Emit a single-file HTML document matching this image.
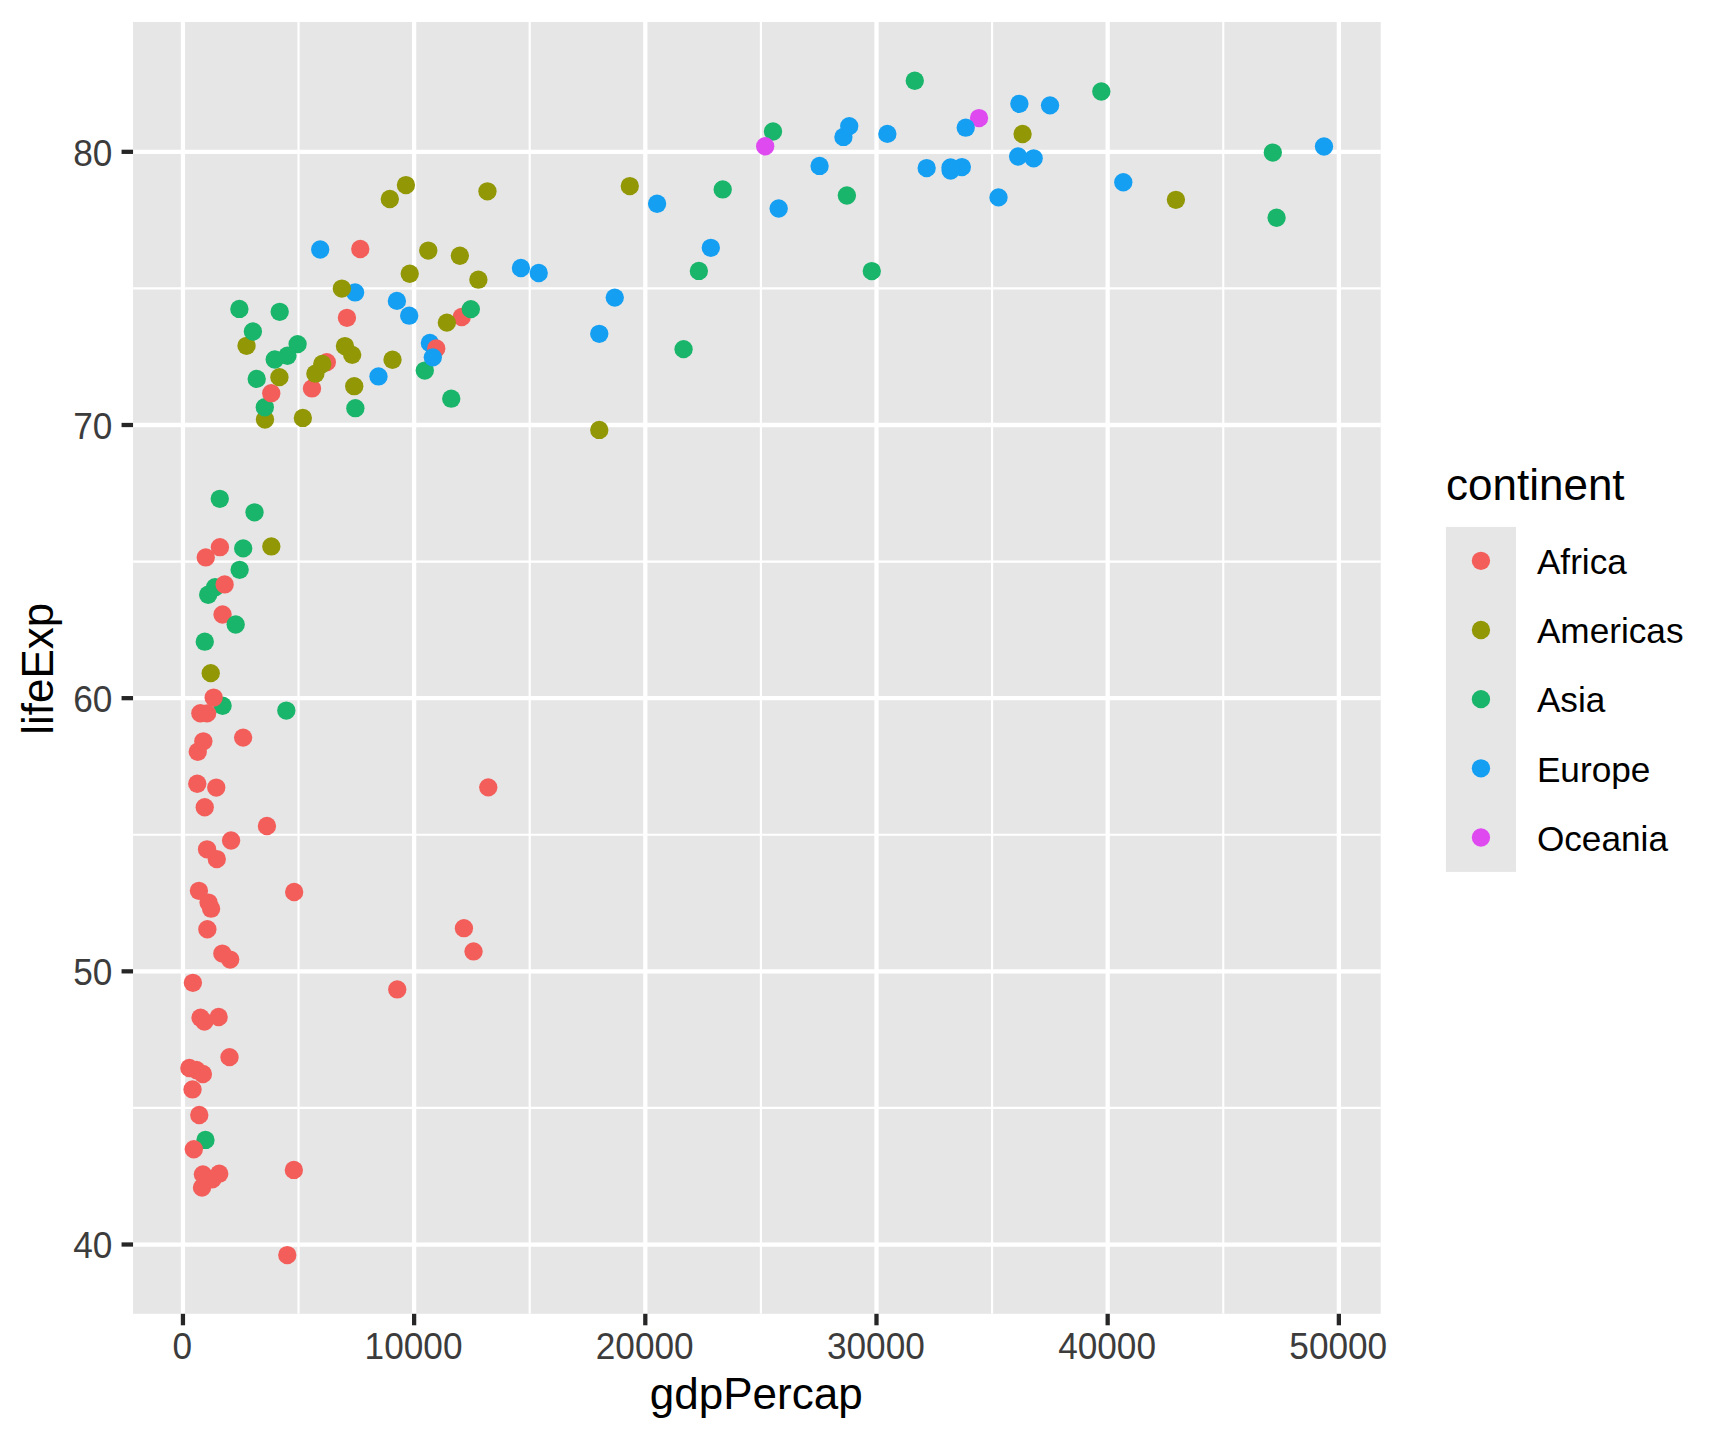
<!DOCTYPE html>
<html lang="en">
<head>
<meta charset="utf-8">
<title>gdpPercap vs lifeExp</title>
<style>
html,body{margin:0;padding:0;background:#fff;}
svg{display:block;}
text{font-family:"Liberation Sans",sans-serif;}
.tl{font-size:35.2px;fill:#3C3C3C;}
.ll{font-size:35.2px;fill:#000;}
.tt{font-size:44px;fill:#000;}
</style>
</head>
<body>
<svg width="1728" height="1440" viewBox="0 0 1728 1440">
<rect x="0" y="0" width="1728" height="1440" fill="#fff"/>
<rect x="133.05" y="22.00" width="1247.65" height="1291.80" fill="#E6E6E6"/>
<g stroke="#fff" stroke-width="2.13" fill="none">
<line x1="133.05" x2="1380.70" y1="1107.92" y2="1107.92"/>
<line x1="133.05" x2="1380.70" y1="834.75" y2="834.75"/>
<line x1="133.05" x2="1380.70" y1="561.58" y2="561.58"/>
<line x1="133.05" x2="1380.70" y1="288.41" y2="288.41"/>
<line x1="298.54" x2="298.54" y1="22.00" y2="1313.80"/>
<line x1="529.72" x2="529.72" y1="22.00" y2="1313.80"/>
<line x1="760.90" x2="760.90" y1="22.00" y2="1313.80"/>
<line x1="992.08" x2="992.08" y1="22.00" y2="1313.80"/>
<line x1="1223.26" x2="1223.26" y1="22.00" y2="1313.80"/>
</g>
<g stroke="#fff" stroke-width="4.27" fill="none">
<line x1="133.05" x2="1380.70" y1="1244.51" y2="1244.51"/>
<line x1="133.05" x2="1380.70" y1="971.34" y2="971.34"/>
<line x1="133.05" x2="1380.70" y1="698.17" y2="698.17"/>
<line x1="133.05" x2="1380.70" y1="425.00" y2="425.00"/>
<line x1="133.05" x2="1380.70" y1="151.82" y2="151.82"/>
<line x1="182.95" x2="182.95" y1="22.00" y2="1313.80"/>
<line x1="414.13" x2="414.13" y1="22.00" y2="1313.80"/>
<line x1="645.31" x2="645.31" y1="22.00" y2="1313.80"/>
<line x1="876.49" x2="876.49" y1="22.00" y2="1313.80"/>
<line x1="1107.67" x2="1107.67" y1="22.00" y2="1313.80"/>
<line x1="1338.85" x2="1338.85" y1="22.00" y2="1313.80"/>
</g>
<g stroke="none">
<circle cx="205.48" cy="1139.94" r="9.17" fill="#18B56A"/>
<circle cx="320.20" cy="249.54" r="9.17" fill="#149FF3"/>
<circle cx="326.82" cy="362.14" r="9.17" fill="#F35E5A"/>
<circle cx="293.85" cy="1169.91" r="9.17" fill="#F35E5A"/>
<circle cx="478.38" cy="279.67" r="9.17" fill="#929706"/>
<circle cx="979.03" cy="118.09" r="9.17" fill="#DE4AF0"/>
<circle cx="1018.12" cy="156.50" r="9.17" fill="#149FF3"/>
<circle cx="871.78" cy="271.06" r="9.17" fill="#18B56A"/>
<circle cx="215.11" cy="587.21" r="9.17" fill="#18B56A"/>
<circle cx="961.86" cy="167.09" r="9.17" fill="#149FF3"/>
<circle cx="216.27" cy="787.55" r="9.17" fill="#F35E5A"/>
<circle cx="271.31" cy="546.45" r="9.17" fill="#929706"/>
<circle cx="355.09" cy="292.45" r="9.17" fill="#149FF3"/>
<circle cx="473.54" cy="951.45" r="9.17" fill="#F35E5A"/>
<circle cx="392.53" cy="359.71" r="9.17" fill="#929706"/>
<circle cx="429.87" cy="342.91" r="9.17" fill="#149FF3"/>
<circle cx="211.09" cy="908.65" r="9.17" fill="#F35E5A"/>
<circle cx="192.89" cy="982.81" r="9.17" fill="#F35E5A"/>
<circle cx="222.57" cy="705.73" r="9.17" fill="#18B56A"/>
<circle cx="230.16" cy="959.59" r="9.17" fill="#F35E5A"/>
<circle cx="1022.58" cy="133.99" r="9.17" fill="#929706"/>
<circle cx="199.27" cy="1115.00" r="9.17" fill="#F35E5A"/>
<circle cx="222.34" cy="953.56" r="9.17" fill="#F35E5A"/>
<circle cx="487.45" cy="191.35" r="9.17" fill="#929706"/>
<circle cx="297.59" cy="344.11" r="9.17" fill="#18B56A"/>
<circle cx="344.93" cy="346.08" r="9.17" fill="#929706"/>
<circle cx="205.75" cy="557.43" r="9.17" fill="#F35E5A"/>
<circle cx="189.37" cy="1067.99" r="9.17" fill="#F35E5A"/>
<circle cx="266.93" cy="825.96" r="9.17" fill="#F35E5A"/>
<circle cx="405.92" cy="185.10" r="9.17" fill="#929706"/>
<circle cx="218.66" cy="1017.01" r="9.17" fill="#F35E5A"/>
<circle cx="520.92" cy="267.98" r="9.17" fill="#149FF3"/>
<circle cx="389.81" cy="199.00" r="9.17" fill="#929706"/>
<circle cx="710.81" cy="247.82" r="9.17" fill="#149FF3"/>
<circle cx="998.52" cy="197.39" r="9.17" fill="#149FF3"/>
<circle cx="231.09" cy="840.46" r="9.17" fill="#F35E5A"/>
<circle cx="322.24" cy="363.94" r="9.17" fill="#929706"/>
<circle cx="341.85" cy="288.57" r="9.17" fill="#929706"/>
<circle cx="311.98" cy="388.45" r="9.17" fill="#F35E5A"/>
<circle cx="315.38" cy="373.69" r="9.17" fill="#929706"/>
<circle cx="463.93" cy="928.20" r="9.17" fill="#F35E5A"/>
<circle cx="197.78" cy="751.71" r="9.17" fill="#F35E5A"/>
<circle cx="198.92" cy="890.84" r="9.17" fill="#F35E5A"/>
<circle cx="950.63" cy="170.59" r="9.17" fill="#149FF3"/>
<circle cx="887.36" cy="133.88" r="9.17" fill="#149FF3"/>
<circle cx="488.26" cy="787.36" r="9.17" fill="#F35E5A"/>
<circle cx="200.35" cy="713.25" r="9.17" fill="#F35E5A"/>
<circle cx="926.66" cy="168.05" r="9.17" fill="#149FF3"/>
<circle cx="213.64" cy="697.57" r="9.17" fill="#F35E5A"/>
<circle cx="819.58" cy="165.95" r="9.17" fill="#149FF3"/>
<circle cx="302.84" cy="417.92" r="9.17" fill="#929706"/>
<circle cx="204.74" cy="807.24" r="9.17" fill="#F35E5A"/>
<circle cx="196.34" cy="1070.01" r="9.17" fill="#F35E5A"/>
<circle cx="210.73" cy="673.14" r="9.17" fill="#929706"/>
<circle cx="264.98" cy="419.59" r="9.17" fill="#929706"/>
<circle cx="1101.31" cy="91.51" r="9.17" fill="#18B56A"/>
<circle cx="599.28" cy="333.81" r="9.17" fill="#149FF3"/>
<circle cx="1019.38" cy="103.83" r="9.17" fill="#149FF3"/>
<circle cx="239.64" cy="569.83" r="9.17" fill="#18B56A"/>
<circle cx="264.80" cy="407.24" r="9.17" fill="#18B56A"/>
<circle cx="451.25" cy="398.66" r="9.17" fill="#18B56A"/>
<circle cx="286.31" cy="710.60" r="9.17" fill="#18B56A"/>
<circle cx="1123.30" cy="182.28" r="9.17" fill="#149FF3"/>
<circle cx="773.00" cy="131.47" r="9.17" fill="#18B56A"/>
<circle cx="843.42" cy="136.91" r="9.17" fill="#149FF3"/>
<circle cx="352.19" cy="354.87" r="9.17" fill="#929706"/>
<circle cx="914.77" cy="80.72" r="9.17" fill="#18B56A"/>
<circle cx="287.43" cy="355.75" r="9.17" fill="#18B56A"/>
<circle cx="216.78" cy="859.07" r="9.17" fill="#F35E5A"/>
<circle cx="219.78" cy="498.83" r="9.17" fill="#18B56A"/>
<circle cx="722.71" cy="189.44" r="9.17" fill="#18B56A"/>
<circle cx="1276.59" cy="217.71" r="9.17" fill="#18B56A"/>
<circle cx="424.79" cy="370.55" r="9.17" fill="#18B56A"/>
<circle cx="219.23" cy="1173.70" r="9.17" fill="#F35E5A"/>
<circle cx="192.53" cy="1089.40" r="9.17" fill="#F35E5A"/>
<circle cx="461.70" cy="317.04" r="9.17" fill="#F35E5A"/>
<circle cx="207.10" cy="713.38" r="9.17" fill="#F35E5A"/>
<circle cx="200.50" cy="1017.70" r="9.17" fill="#F35E5A"/>
<circle cx="470.81" cy="309.14" r="9.17" fill="#18B56A"/>
<circle cx="207.05" cy="849.31" r="9.17" fill="#F35E5A"/>
<circle cx="224.64" cy="584.42" r="9.17" fill="#F35E5A"/>
<circle cx="436.25" cy="348.48" r="9.17" fill="#F35E5A"/>
<circle cx="459.85" cy="255.77" r="9.17" fill="#929706"/>
<circle cx="254.52" cy="512.33" r="9.17" fill="#18B56A"/>
<circle cx="396.88" cy="300.89" r="9.17" fill="#149FF3"/>
<circle cx="271.26" cy="393.20" r="9.17" fill="#F35E5A"/>
<circle cx="201.99" cy="1187.64" r="9.17" fill="#F35E5A"/>
<circle cx="204.77" cy="641.65" r="9.17" fill="#18B56A"/>
<circle cx="294.17" cy="891.96" r="9.17" fill="#F35E5A"/>
<circle cx="208.18" cy="594.77" r="9.17" fill="#18B56A"/>
<circle cx="1033.64" cy="158.33" r="9.17" fill="#149FF3"/>
<circle cx="765.18" cy="146.25" r="9.17" fill="#DE4AF0"/>
<circle cx="246.51" cy="345.80" r="9.17" fill="#929706"/>
<circle cx="197.28" cy="783.75" r="9.17" fill="#F35E5A"/>
<circle cx="229.51" cy="1057.14" r="9.17" fill="#F35E5A"/>
<circle cx="1323.99" cy="146.47" r="9.17" fill="#149FF3"/>
<circle cx="698.86" cy="270.93" r="9.17" fill="#18B56A"/>
<circle cx="243.19" cy="548.39" r="9.17" fill="#18B56A"/>
<circle cx="409.72" cy="273.74" r="9.17" fill="#929706"/>
<circle cx="279.42" cy="377.14" r="9.17" fill="#929706"/>
<circle cx="354.23" cy="386.18" r="9.17" fill="#929706"/>
<circle cx="256.71" cy="378.88" r="9.17" fill="#18B56A"/>
<circle cx="538.73" cy="273.03" r="9.17" fill="#149FF3"/>
<circle cx="657.09" cy="203.78" r="9.17" fill="#149FF3"/>
<circle cx="629.79" cy="186.08" r="9.17" fill="#929706"/>
<circle cx="360.27" cy="249.02" r="9.17" fill="#F35E5A"/>
<circle cx="432.82" cy="357.36" r="9.17" fill="#149FF3"/>
<circle cx="202.90" cy="1074.00" r="9.17" fill="#F35E5A"/>
<circle cx="219.90" cy="547.16" r="9.17" fill="#F35E5A"/>
<circle cx="683.57" cy="349.14" r="9.17" fill="#18B56A"/>
<circle cx="222.54" cy="614.52" r="9.17" fill="#F35E5A"/>
<circle cx="409.20" cy="315.67" r="9.17" fill="#149FF3"/>
<circle cx="202.89" cy="1174.36" r="9.17" fill="#F35E5A"/>
<circle cx="1272.81" cy="152.59" r="9.17" fill="#18B56A"/>
<circle cx="614.76" cy="297.62" r="9.17" fill="#149FF3"/>
<circle cx="778.66" cy="208.48" r="9.17" fill="#149FF3"/>
<circle cx="204.36" cy="1021.63" r="9.17" fill="#F35E5A"/>
<circle cx="397.25" cy="989.40" r="9.17" fill="#F35E5A"/>
<circle cx="849.24" cy="126.12" r="9.17" fill="#149FF3"/>
<circle cx="274.73" cy="359.54" r="9.17" fill="#18B56A"/>
<circle cx="243.11" cy="737.61" r="9.17" fill="#F35E5A"/>
<circle cx="287.29" cy="1255.08" r="9.17" fill="#F35E5A"/>
<circle cx="965.72" cy="127.68" r="9.17" fill="#149FF3"/>
<circle cx="1050.02" cy="105.36" r="9.17" fill="#149FF3"/>
<circle cx="279.69" cy="311.82" r="9.17" fill="#18B56A"/>
<circle cx="846.86" cy="195.53" r="9.17" fill="#18B56A"/>
<circle cx="208.55" cy="902.58" r="9.17" fill="#F35E5A"/>
<circle cx="355.37" cy="408.17" r="9.17" fill="#18B56A"/>
<circle cx="203.36" cy="741.33" r="9.17" fill="#F35E5A"/>
<circle cx="599.27" cy="429.94" r="9.17" fill="#929706"/>
<circle cx="346.92" cy="317.83" r="9.17" fill="#F35E5A"/>
<circle cx="378.49" cy="376.45" r="9.17" fill="#149FF3"/>
<circle cx="207.37" cy="929.22" r="9.17" fill="#F35E5A"/>
<circle cx="950.54" cy="167.53" r="9.17" fill="#149FF3"/>
<circle cx="1175.91" cy="199.85" r="9.17" fill="#929706"/>
<circle cx="428.27" cy="250.60" r="9.17" fill="#929706"/>
<circle cx="446.86" cy="322.64" r="9.17" fill="#929706"/>
<circle cx="239.39" cy="308.93" r="9.17" fill="#18B56A"/>
<circle cx="252.89" cy="331.52" r="9.17" fill="#18B56A"/>
<circle cx="235.68" cy="624.47" r="9.17" fill="#18B56A"/>
<circle cx="212.34" cy="1179.39" r="9.17" fill="#F35E5A"/>
<circle cx="193.81" cy="1149.26" r="9.17" fill="#F35E5A"/>
</g>
<g stroke="#262626" stroke-width="4.27">
<line x1="121.55" x2="133.05" y1="1244.51" y2="1244.51"/>
<line x1="121.55" x2="133.05" y1="971.34" y2="971.34"/>
<line x1="121.55" x2="133.05" y1="698.17" y2="698.17"/>
<line x1="121.55" x2="133.05" y1="425.00" y2="425.00"/>
<line x1="121.55" x2="133.05" y1="151.82" y2="151.82"/>
<line x1="182.95" x2="182.95" y1="1313.80" y2="1325.30"/>
<line x1="414.13" x2="414.13" y1="1313.80" y2="1325.30"/>
<line x1="645.31" x2="645.31" y1="1313.80" y2="1325.30"/>
<line x1="876.49" x2="876.49" y1="1313.80" y2="1325.30"/>
<line x1="1107.67" x2="1107.67" y1="1313.80" y2="1325.30"/>
<line x1="1338.85" x2="1338.85" y1="1313.80" y2="1325.30"/>
</g>
<text class="tl" transform="translate(112.30,1258.41) scale(1,1.060)" text-anchor="end">40</text>
<text class="tl" transform="translate(112.30,985.24) scale(1,1.060)" text-anchor="end">50</text>
<text class="tl" transform="translate(112.30,712.07) scale(1,1.060)" text-anchor="end">60</text>
<text class="tl" transform="translate(112.30,438.90) scale(1,1.060)" text-anchor="end">70</text>
<text class="tl" transform="translate(112.30,165.72) scale(1,1.060)" text-anchor="end">80</text>
<text class="tl" transform="translate(182.35,1359.30) scale(1,1.060)" text-anchor="middle">0</text>
<text class="tl" transform="translate(413.53,1359.30) scale(1,1.060)" text-anchor="middle">10000</text>
<text class="tl" transform="translate(644.71,1359.30) scale(1,1.060)" text-anchor="middle">20000</text>
<text class="tl" transform="translate(875.89,1359.30) scale(1,1.060)" text-anchor="middle">30000</text>
<text class="tl" transform="translate(1107.07,1359.30) scale(1,1.060)" text-anchor="middle">40000</text>
<text class="tl" transform="translate(1338.25,1359.30) scale(1,1.060)" text-anchor="middle">50000</text>
<text class="tt" x="756.27" y="1408.90" text-anchor="middle">gdpPercap</text>
<text class="tt" transform="translate(53.10,668.70) rotate(-90)" text-anchor="middle">lifeExp</text>
<text class="tt" x="1446.00" y="500.30">continent</text>
<rect x="1445.90" y="526.90" width="70.10" height="345.00" fill="#E6E6E6"/>
<circle cx="1480.95" cy="560.80" r="9.17" fill="#F35E5A"/>
<text class="ll" x="1536.90" y="573.75">Africa</text>
<circle cx="1480.95" cy="629.97" r="9.17" fill="#929706"/>
<text class="ll" x="1536.90" y="643.00">Americas</text>
<circle cx="1480.95" cy="699.14" r="9.17" fill="#18B56A"/>
<text class="ll" x="1536.90" y="712.25">Asia</text>
<circle cx="1480.95" cy="768.31" r="9.17" fill="#149FF3"/>
<text class="ll" x="1536.90" y="781.50">Europe</text>
<circle cx="1480.95" cy="837.48" r="9.17" fill="#DE4AF0"/>
<text class="ll" x="1536.90" y="850.75">Oceania</text>
</svg>
</body>
</html>
